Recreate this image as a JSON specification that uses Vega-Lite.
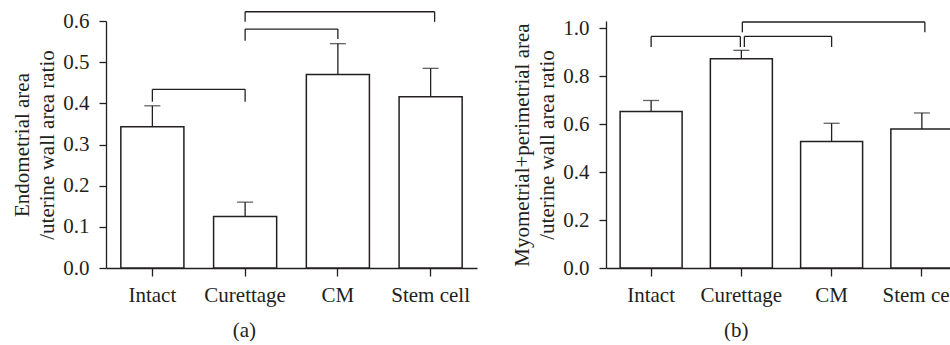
{
  "$schema": "https://vega.github.io/schema/vega-lite/v6.json",
  "padding": {"left": 11, "top": 10, "right": 0, "bottom": 0},
  "background": "white",
  "bounds": "flush",
  "spacing": 129,
  "config": {
    "view": {"stroke": null},
    "font": "Liberation Serif",
    "axis": {
      "grid": false,
      "domainColor": "#231f20",
      "tickColor": "#231f20",
      "labelColor": "#231f20",
      "titleColor": "#231f20",
      "domainWidth": 1.3,
      "tickWidth": 1.3,
      "labelFont": "Liberation Serif",
      "titleFont": "Liberation Serif",
      "labelFontSize": 21,
      "titleFontSize": 21,
      "titleFontWeight": "normal"
    },
    "title": {"font": "Liberation Serif", "fontSize": 21, "fontWeight": "normal", "color": "#231f20"}
  },
  "datasets": {
    "a": [
      {"kind": "bar", "group": "Intact", "mean": 0.343, "upper": 0.394},
      {"kind": "bar", "group": "Curettage", "mean": 0.125, "upper": 0.160},
      {"kind": "bar", "group": "CM", "mean": 0.470, "upper": 0.545},
      {"kind": "bar", "group": "Stem cell", "mean": 0.416, "upper": 0.485},
      {"kind": "h", "bracket": "I-C", "from": "Intact", "to": "Curettage", "y": 0.434},
      {"kind": "h", "bracket": "C-CM", "from": "Curettage", "to": "CM", "y": 0.5805},
      {"kind": "h", "bracket": "C-S", "from": "Curettage", "to": "Stem cell", "y": 0.6225},
      {"kind": "leg", "bracket": "I-C", "group": "Intact", "lo": 0.404, "hi": 0.434},
      {"kind": "leg", "bracket": "I-C", "group": "Curettage", "lo": 0.404, "hi": 0.434},
      {"kind": "leg", "bracket": "C-CM", "group": "Curettage", "lo": 0.552, "hi": 0.5805},
      {"kind": "leg", "bracket": "C-CM", "group": "CM", "lo": 0.556, "hi": 0.5805},
      {"kind": "leg", "bracket": "C-S", "group": "Curettage", "lo": 0.598, "hi": 0.6225},
      {"kind": "leg", "bracket": "C-S", "group": "Stem cell", "lo": 0.598, "hi": 0.6225}
    ],
    "b": [
      {"kind": "bar", "group": "Intact", "mean": 0.652, "upper": 0.698},
      {"kind": "bar", "group": "Curettage", "mean": 0.872, "upper": 0.907},
      {"kind": "bar", "group": "CM", "mean": 0.527, "upper": 0.603},
      {"kind": "bar", "group": "Stem cell", "mean": 0.579, "upper": 0.646},
      {"kind": "h", "bracket": "I-C", "from": "Intact", "to": "Curettage", "y": 0.965},
      {"kind": "h", "bracket": "C-CM", "from": "Curettage", "to": "CM", "y": 0.965},
      {"kind": "h", "bracket": "C-S", "from": "Curettage", "to": "Stem cell", "y": 1.025},
      {"kind": "leg", "bracket": "I-C", "group": "Intact", "lo": 0.921, "hi": 0.965},
      {"kind": "leg", "bracket": "I-C", "group": "Curettage", "lo": 0.921, "hi": 0.965},
      {"kind": "leg", "bracket": "C-CM", "group": "Curettage", "lo": 0.921, "hi": 0.965},
      {"kind": "leg", "bracket": "C-CM", "group": "CM", "lo": 0.921, "hi": 0.965},
      {"kind": "leg", "bracket": "C-S", "group": "Curettage", "lo": 0.982, "hi": 1.025},
      {"kind": "leg", "bracket": "C-S", "group": "Stem cell", "lo": 0.982, "hi": 1.025}
    ]
  },
  "hconcat": [
    {
      "width": 371,
      "height": 247,
      "title": {"text": "(a)", "orient": "bottom", "anchor": "middle", "frame": "bounds", "offset": 15},
      "data": {"name": "a"},
      "layer": [
        {
          "transform": [{"filter": "datum.kind == 'bar'"}],
          "mark": {"type": "bar", "fill": "white", "stroke": "#231f20", "strokeWidth": 1.5},
          "encoding": {
            "x": {"field": "group", "type": "nominal", "title": null,
              "scale": {"domain": ["Intact", "Curettage", "CM", "Stem cell"], "paddingInner": 0.32, "paddingOuter": 0.16},
              "axis": {"labelAngle": 0, "tickSize": 8, "labelPadding": 8}},
            "y": {"field": "mean", "type": "quantitative", "title": ["Endometrial area", "/uterine wall area ratio"],
              "scale": {"domain": [0, 0.6], "nice": false, "zero": true},
              "axis": {"values": [0, 0.1, 0.2, 0.3, 0.4, 0.5, 0.6], "format": ".1f", "tickSize": 7, "labelPadding": 10, "titlePadding": 5, "titleLineHeight": 25}}
          }
        },
        {
          "transform": [{"filter": "datum.kind == 'bar'"}],
          "mark": {"type": "rule", "stroke": "#231f20", "strokeWidth": 1.3},
          "encoding": {
            "x": {"field": "group", "type": "nominal", "title": null, "bandPosition": 0.5},
            "y": {"field": "mean", "type": "quantitative"},
            "y2": {"field": "upper"}
          }
        },
        {
          "transform": [{"filter": "datum.kind == 'bar'"}],
          "mark": {"type": "tick", "color": "#231f20", "size": 16, "thickness": 1.3, "orient": "horizontal"},
          "encoding": {
            "x": {"field": "group", "type": "nominal", "title": null},
            "y": {"field": "upper", "type": "quantitative"}
          }
        },
        {
          "transform": [{"filter": "datum.kind == 'h' && datum.bracket != 'C-S'"}],
          "mark": {"type": "rule", "stroke": "#231f20", "strokeWidth": 1.3},
          "encoding": {
            "x": {"field": "from", "type": "nominal", "title": null, "bandPosition": 0.5},
            "x2": {"field": "to", "bandPosition": 0.5},
            "y": {"field": "y", "type": "quantitative"}
          }
        },
        {
          "transform": [{"filter": "datum.kind == 'h' && datum.bracket == 'C-S'"}],
          "mark": {"type": "rule", "stroke": "#231f20", "strokeWidth": 1.3, "x2Offset": 4},
          "encoding": {
            "x": {"field": "from", "type": "nominal", "title": null, "bandPosition": 0.5},
            "x2": {"field": "to", "bandPosition": 0.5},
            "y": {"field": "y", "type": "quantitative"}
          }
        },
        {
          "transform": [{"filter": "datum.kind == 'leg' && !(datum.bracket == 'C-S' && datum.group == 'Stem cell')"}],
          "mark": {"type": "rule", "stroke": "#231f20", "strokeWidth": 1.3},
          "encoding": {
            "x": {"field": "group", "type": "nominal", "title": null, "bandPosition": 0.5},
            "y": {"field": "lo", "type": "quantitative"},
            "y2": {"field": "hi"}
          }
        },
        {
          "transform": [{"filter": "datum.kind == 'leg' && datum.bracket == 'C-S' && datum.group == 'Stem cell'"}],
          "mark": {"type": "rule", "stroke": "#231f20", "strokeWidth": 1.3, "xOffset": 4},
          "encoding": {
            "x": {"field": "group", "type": "nominal", "title": null, "bandPosition": 0.5},
            "y": {"field": "lo", "type": "quantitative"},
            "y2": {"field": "hi"}
          }
        }
      ]
    },
    {
      "width": 350,
      "height": 247,
      "title": {"text": "(b)", "orient": "bottom", "anchor": "middle", "frame": "bounds", "offset": 15},
      "data": {"name": "b"},
      "layer": [
        {
          "transform": [{"filter": "datum.kind == 'bar'"}],
          "mark": {"type": "bar", "fill": "white", "stroke": "#231f20", "strokeWidth": 1.5},
          "encoding": {
            "x": {"field": "group", "type": "nominal", "title": null,
              "scale": {"domain": ["Intact", "Curettage", "CM", "Stem cell"], "paddingInner": 0.313, "paddingOuter": 0.0956, "align": 0.818},
              "axis": {"labelAngle": 0, "tickSize": 8, "labelPadding": 8}},
            "y": {"field": "mean", "type": "quantitative", "title": ["Myometrial+perimetrial area", "/uterine wall area ratio"],
              "scale": {"domain": [0, 1.0292], "nice": false, "zero": true},
              "axis": {"values": [0, 0.2, 0.4, 0.6, 0.8, 1.0], "format": ".1f", "tickSize": 7, "labelPadding": 10, "titlePadding": 5, "titleLineHeight": 25}}
          }
        },
        {
          "transform": [{"filter": "datum.kind == 'bar'"}],
          "mark": {"type": "rule", "stroke": "#231f20", "strokeWidth": 1.3},
          "encoding": {
            "x": {"field": "group", "type": "nominal", "title": null, "bandPosition": 0.5},
            "y": {"field": "mean", "type": "quantitative"},
            "y2": {"field": "upper"}
          }
        },
        {
          "transform": [{"filter": "datum.kind == 'bar'"}],
          "mark": {"type": "tick", "color": "#231f20", "size": 16, "thickness": 1.3, "orient": "horizontal"},
          "encoding": {
            "x": {"field": "group", "type": "nominal", "title": null},
            "y": {"field": "upper", "type": "quantitative"}
          }
        },
        {
          "transform": [{"filter": "datum.kind == 'h' && datum.bracket == 'I-C'"}],
          "mark": {"type": "rule", "stroke": "#231f20", "strokeWidth": 1.3, "x2Offset": -1},
          "encoding": {
            "x": {"field": "from", "type": "nominal", "title": null, "bandPosition": 0.5},
            "x2": {"field": "to", "bandPosition": 0.5},
            "y": {"field": "y", "type": "quantitative"}
          }
        },
        {
          "transform": [{"filter": "datum.kind == 'h' && datum.bracket == 'C-CM'"}],
          "mark": {"type": "rule", "stroke": "#231f20", "strokeWidth": 1.3, "xOffset": 3},
          "encoding": {
            "x": {"field": "from", "type": "nominal", "title": null, "bandPosition": 0.5},
            "x2": {"field": "to", "bandPosition": 0.5},
            "y": {"field": "y", "type": "quantitative"}
          }
        },
        {
          "transform": [{"filter": "datum.kind == 'h' && datum.bracket == 'C-S'"}],
          "mark": {"type": "rule", "stroke": "#231f20", "strokeWidth": 1.3, "xOffset": 1, "x2Offset": 3},
          "encoding": {
            "x": {"field": "from", "type": "nominal", "title": null, "bandPosition": 0.5},
            "x2": {"field": "to", "bandPosition": 0.5},
            "y": {"field": "y", "type": "quantitative"}
          }
        },
        {
          "transform": [{"filter": "datum.kind == 'leg' && (datum.group == 'Intact' || datum.group == 'CM')"}],
          "mark": {"type": "rule", "stroke": "#231f20", "strokeWidth": 1.3},
          "encoding": {
            "x": {"field": "group", "type": "nominal", "title": null, "bandPosition": 0.5},
            "y": {"field": "lo", "type": "quantitative"},
            "y2": {"field": "hi"}
          }
        },
        {
          "transform": [{"filter": "datum.kind == 'leg' && datum.bracket == 'I-C' && datum.group == 'Curettage'"}],
          "mark": {"type": "rule", "stroke": "#231f20", "strokeWidth": 1.3, "xOffset": -1},
          "encoding": {
            "x": {"field": "group", "type": "nominal", "title": null, "bandPosition": 0.5},
            "y": {"field": "lo", "type": "quantitative"},
            "y2": {"field": "hi"}
          }
        },
        {
          "transform": [{"filter": "datum.kind == 'leg' && datum.bracket == 'C-CM' && datum.group == 'Curettage'"}],
          "mark": {"type": "rule", "stroke": "#231f20", "strokeWidth": 1.3, "xOffset": 3},
          "encoding": {
            "x": {"field": "group", "type": "nominal", "title": null, "bandPosition": 0.5},
            "y": {"field": "lo", "type": "quantitative"},
            "y2": {"field": "hi"}
          }
        },
        {
          "transform": [{"filter": "datum.kind == 'leg' && datum.bracket == 'C-S' && datum.group == 'Curettage'"}],
          "mark": {"type": "rule", "stroke": "#231f20", "strokeWidth": 1.3, "xOffset": 1},
          "encoding": {
            "x": {"field": "group", "type": "nominal", "title": null, "bandPosition": 0.5},
            "y": {"field": "lo", "type": "quantitative"},
            "y2": {"field": "hi"}
          }
        },
        {
          "transform": [{"filter": "datum.kind == 'leg' && datum.bracket == 'C-S' && datum.group == 'Stem cell'"}],
          "mark": {"type": "rule", "stroke": "#231f20", "strokeWidth": 1.3, "xOffset": 3},
          "encoding": {
            "x": {"field": "group", "type": "nominal", "title": null, "bandPosition": 0.5},
            "y": {"field": "lo", "type": "quantitative"},
            "y2": {"field": "hi"}
          }
        }
      ]
    }
  ]
}
